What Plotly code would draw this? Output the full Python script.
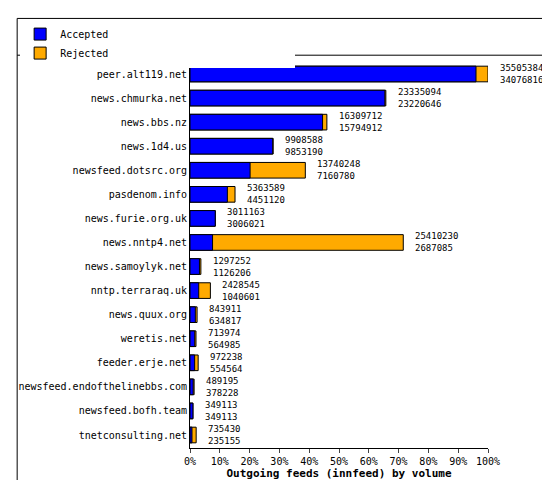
import plotly.graph_objects as go

servers = ["peer.alt119.net", "news.chmurka.net", "news.bbs.nz", "news.1d4.us",
           "newsfeed.dotsrc.org", "pasdenom.info", "news.furie.org.uk", "news.nntp4.net",
           "news.samoylyk.net", "nntp.terraraq.uk", "news.quux.org", "weretis.net",
           "feeder.erje.net", "newsfeed.endofthelinebbs.com", "newsfeed.bofh.team",
           "tnetconsulting.net"]
total = [35505384, 23335094, 16309712, 9908588, 13740248, 5363589, 3011163, 25410230,
         1297252, 2428545, 843911, 713974, 972238, 489195, 349113, 735430]
accepted = [34076816, 23220646, 15794912, 9853190, 7160780, 4451120, 3006021, 2687085,
            1126206, 1040601, 634817, 564985, 554564, 378228, 349113, 235155]

top = max(total)
tot_pct = [v / top * 100 for v in total]
acc_pct = [v / top * 100 for v in accepted]

fig = go.Figure()
fig.add_trace(go.Bar(y=servers, x=tot_pct, orientation="h", name="Rejected",
                     marker=dict(color="#ffaa00", line=dict(color="black", width=1)),
                     width=0.65, legendrank=2))
fig.add_trace(go.Bar(y=servers, x=acc_pct, orientation="h", name="Accepted",
                     marker=dict(color="#0000ff", line=dict(color="black", width=1)),
                     width=0.65, legendrank=1))

# value labels at the end of each bar
for s, p, t, a in zip(servers, tot_pct, total, accepted):
    fig.add_annotation(x=p, y=s, text=f"{t}<br>{a}", showarrow=False,
                       xanchor="left", xshift=10, align="left",
                       font=dict(size=9, color="black"))

# frame and legend separator
fig.add_shape(type="rect", xref="paper", yref="paper", x0=-0.58, x1=1.225,
              y0=-0.1, y1=1.11, line=dict(color="black", width=1))
fig.add_shape(type="line", xref="paper", yref="paper", x0=-0.58, x1=1.225,
              y0=1.015, y1=1.015, line=dict(color="black", width=1))

fig.update_layout(
    width=550, height=480,
    margin=dict(l=177, r=70, t=45, b=40),
    barmode="overlay",
    paper_bgcolor="white", plot_bgcolor="white",
    font=dict(family="DejaVu Sans Mono", size=10, color="black"),
    showlegend=True,
    legend=dict(orientation="h", x=-0.57, y=1.107, xanchor="left", yanchor="top",
                entrywidth=230, entrywidthmode="pixels", font=dict(size=10)),
    xaxis=dict(range=[0, 100], tickvals=list(range(0, 101, 10)),
               ticktext=[f"{v}%" for v in range(0, 101, 10)],
               showgrid=False, showline=True, linecolor="black", ticks="outside",
               ticklen=4, zeroline=False, automargin=False,
               title=dict(text="<b>Outgoing feeds (innfeed) by volume</b>",
                          standoff=2, font=dict(size=11))),
    yaxis=dict(autorange="reversed", showline=True, linecolor="black",
               ticks="", showgrid=False, automargin=False),
)

fig.write_html("out.html")
